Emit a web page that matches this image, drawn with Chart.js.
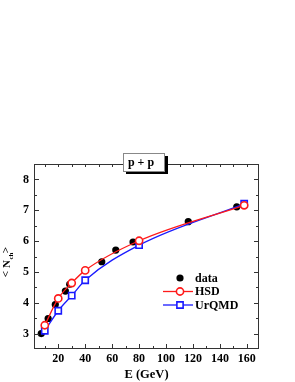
<!DOCTYPE html>
<html>
<head>
<meta charset="utf-8">
<script src="https://cdn.jsdelivr.net/npm/chart.js@4.4.0/dist/chart.umd.min.js"></script>
<style>
  html, body { margin: 0; padding: 0; background: #fff; }
  #wrap { width: 295px; height: 382px; }
</style>
</head>
<body>
<div id="wrap"><canvas id="mycanvas"></canvas></div>
<script>
// values
var dataE = [7.4, 12.5, 17.8, 25.3, 28.5, 52.3, 62.7, 75.5, 116.5, 152.5];
var dataN = [3.00, 3.49, 3.94, 4.38, 4.60, 5.33, 5.71, 5.97, 6.63, 7.11];
var hsdE = [10, 20, 30, 40, 80, 158];
var hsdN = [3.27, 4.14, 4.64, 5.05, 6.01, 7.16];
var urqmdE = [10, 20, 30, 40, 80, 158];
var urqmdN = [3.09, 3.74, 4.23, 4.73, 5.87, 7.21];
var xTicks = [20, 40, 60, 80, 100, 120, 140, 160];
var yTicks = [3, 4, 5, 6, 7, 8];

function pts(xs, ys) {
	var out = [];
	for (var i in xs) out.push({x: xs[i], y: ys[i]});
	return out;
}

var serif = "'Liberation Serif', 'Times New Roman', serif";
var RED = "#ff1a1a", BLUE = "#1a1aff";

// frame, inward ticks, y title, "p + p" box and legend
var decor = {
	id: 'decor',
	afterDraw: function(chart) {
		var c = chart.ctx, a = chart.chartArea;
		var xs = chart.scales.x, ys = chart.scales.y;
		c.save();
		c.strokeStyle = "#333";
		c.lineWidth = 1;
		c.strokeRect(a.left + 0.5, a.top + 0.5, a.right - a.left - 1, a.bottom - a.top - 1);
		c.beginPath();
		for (var v = 10; v <= 160; v += 10) {
			var px = Math.round(xs.getPixelForValue(v)) + 0.5;
			var len = (v % 20 === 0) ? 5 : 3;
			c.moveTo(px, a.bottom); c.lineTo(px, a.bottom - len);
			c.moveTo(px, a.top); c.lineTo(px, a.top + 3);
		}
		for (var w = 3; w <= 8.01; w += 0.5) {
			var py = Math.round(ys.getPixelForValue(w)) + 0.5;
			var l2 = (w % 1 === 0) ? 5 : 3;
			c.moveTo(a.left, py); c.lineTo(a.left + l2, py);
			c.moveTo(a.right, py); c.lineTo(a.right - l2, py);
		}
		c.stroke();

		// y axis title  < N_ch >
		c.fillStyle = "#000";
		c.translate(10, 263);
		c.rotate(-Math.PI / 2);
		c.textBaseline = "alphabetic";
		c.textAlign = "center";
		c.font = "bold 11px " + serif;
		c.fillText("<", -11, -1);
		c.fillText("N", -1, 0);
		c.fillText(">", 13, -1);
		c.font = "bold 7px " + serif;
		c.fillText("ch", 7, 3);
		c.restore();

		// title box
		c.save();
		c.fillStyle = "#000";
		c.fillRect(126, 156, 42, 18);
		c.fillStyle = "#fff";
		c.fillRect(123, 153, 41, 18);
		c.strokeStyle = "#888";
		c.lineWidth = 1;
		c.strokeRect(123.5, 153.5, 41, 18);
		c.fillStyle = "#000";
		c.font = "bold 12px " + serif;
		c.textAlign = "center";
		c.textBaseline = "middle";
		c.fillText("p + p", 141, 163);

		// legend
		var rows = [278, 291.5, 305];
		chart.data.datasets.forEach(function(ds, i) {
			var y = rows[i];
			if (ds.showLine) {
				c.strokeStyle = ds.borderColor;
				c.lineWidth = ds.borderWidth;
				c.beginPath(); c.moveTo(163, y); c.lineTo(193, y); c.stroke();
			}
			c.fillStyle = ds.pointBackgroundColor;
			c.strokeStyle = ds.pointBorderColor;
			c.lineWidth = ds.pointBorderWidth;
			c.beginPath();
			if (ds.pointStyle === 'rect') {
				var s = ds.pointRadius * Math.SQRT1_2;
				c.rect(180 - s, y - s, 2 * s, 2 * s);
			} else {
				c.arc(180, y, ds.pointRadius, 0, Math.PI * 2);
			}
			c.fill();
			if (ds.pointBorderWidth) c.stroke();
			c.fillStyle = "#000";
			c.textAlign = "left";
			c.textBaseline = "middle";
			c.font = "bold 12px " + serif;
			c.fillText(ds.label, 195, y + 0.5);
		});
		c.restore();
	}
};

var ctx = document.getElementById("mycanvas");
var chart = new Chart(ctx, {
	type: 'scatter',
	data: {
		datasets: [
			{
				label: "data",
				data: pts(dataE, dataN),
				showLine: false,
				pointStyle: 'circle',
				pointRadius: 3.6,
				pointBorderWidth: 0,
				pointBackgroundColor: "#000",
				pointBorderColor: "#000",
				order: 2
			},
			{
				label: "HSD",
				data: pts(hsdE, hsdN),
				showLine: true,
				cubicInterpolationMode: 'monotone',
				borderColor: RED,
				borderWidth: 1.3,
				pointStyle: 'circle',
				pointRadius: 3.6,
				pointBorderWidth: 1.6,
				pointBackgroundColor: "#fff",
				pointBorderColor: RED,
				order: 0
			},
			{
				label: "UrQMD",
				data: pts(urqmdE, urqmdN),
				showLine: true,
				cubicInterpolationMode: 'monotone',
				borderColor: BLUE,
				borderWidth: 1.3,
				pointStyle: 'rect',
				pointRadius: 4.4,
				pointBorderWidth: 1.6,
				pointBackgroundColor: "#fff",
				pointBorderColor: BLUE,
				order: 1
			}
		]
	},
	options: {
		responsive: true,
		maintainAspectRatio: false,
		animation: false,
		devicePixelRatio: 1,
		layout: { padding: { top: 164, right: 36, left: 0, bottom: 0 } },
		plugins: { legend: { display: false }, tooltip: { enabled: false } },
		scales: {
			x: {
				type: 'linear',
				min: 2,
				max: 169,
				afterBuildTicks: function(s) { s.ticks = xTicks.map(function(v) { return {value: v}; }); },
				afterFit: function(s) { s.height = 33; },
				grid: { display: false, drawTicks: false },
				border: { display: false },
				ticks: { color: "#000", padding: 3, maxRotation: 0, font: { family: serif, size: 12, weight: 'bold' } },
				title: { display: true, text: "E (GeV)", color: "#000", padding: 0, font: { family: serif, size: 12.5, weight: 'bold' } }
			},
			y: {
				min: 2.5,
				max: 8.5,
				afterBuildTicks: function(s) { s.ticks = yTicks.map(function(v) { return {value: v}; }); },
				afterFit: function(s) { s.width = 34; },
				grid: { display: false, drawTicks: false },
				border: { display: false },
				ticks: { color: "#000", padding: 5, font: { family: serif, size: 12, weight: 'bold' } }
			}
		}
	},
	plugins: [decor]
});
</script>
</body>
</html>
